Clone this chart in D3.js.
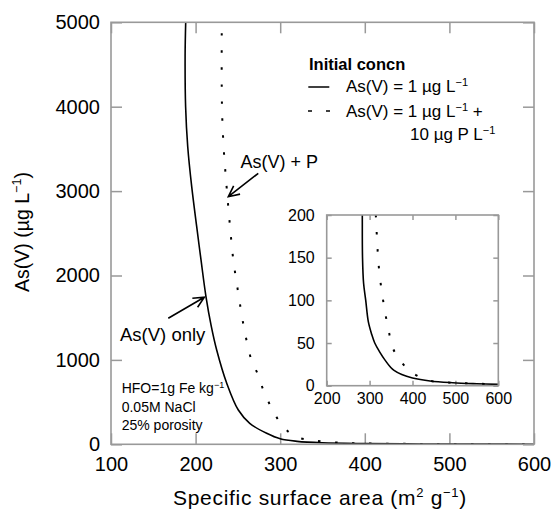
<!DOCTYPE html>
<html>
<head>
<meta charset="utf-8">
<script src="https://cdn.jsdelivr.net/npm/d3@7"></script>
<style>
  body { margin: 0; background: #fff; }
  text { font-family: "Liberation Sans", Arial, Helvetica, sans-serif; fill: #000; }
</style>
</head>
<body>
<script>
// Values.
// Main panel: specific surface area (m2/g) vs dissolved As(V) (ug/L).
const asOnlyArea = [188.3, 187.6, 188.2, 190.7, 195.4, 201.3, 206.4, 212.3, 218.5, 225, 236.8, 250.5, 264, 284, 300, 320, 350, 400, 450, 500, 600];
const asOnlyConc = [5000, 4600, 4000, 3526, 3052, 2578, 2184, 1748, 1400, 1114, 723, 406, 249, 130, 65, 35, 18, 9, 5, 3, 1];

const asPArea = [230.9, 230.9, 231.6, 233.6, 236, 240.7, 244.6, 250.5, 257, 266, 274, 280, 288, 297.8, 309.6, 321, 340, 368, 400, 450, 500, 600];
const asPConc = [4870, 4237, 3842, 3447, 3131, 2578, 2184, 1789, 1393, 999, 821, 643, 466, 288, 150, 80, 45, 20, 10, 5, 3, 1];

// Inset (low concentration close-up).
const insetOnlyArea = [283, 283, 283.5, 286, 291, 297, 305, 312, 323, 336, 350, 357, 375, 400, 441, 494, 550, 600];
const insetOnlyConc = [230, 200, 150, 120, 100, 75, 60, 50, 40, 30, 21, 18, 13, 9, 5.5, 3.5, 2.3, 1.5];

const insetPArea = [314.5, 318, 320.5, 324.5, 330, 336, 343.6, 351.5, 360, 371, 385, 399.6, 433, 472, 500, 600];
const insetPConc = [200, 165, 145, 125, 105, 86, 67, 48, 38, 30, 21, 15, 6.7, 4, 3.3, 1.5];

const xTicks = [100, 200, 300, 400, 500, 600];
const yTicks = [0, 1000, 2000, 3000, 4000, 5000];
const insetXTicks = [200, 300, 400, 500, 600];
const insetYTicks = [0, 50, 100, 150, 200];

const width = 554, height = 510;
const frameColor = "#999";

const svg = d3.select("body").append("svg")
  .attr("width", width)
  .attr("height", height);

const x = d3.scaleLinear().domain([100, 600]).range([111, 534]);
const y = d3.scaleLinear().domain([0, 5000]).range([444.3, 22.3]);

const ix = d3.scaleLinear().domain([200, 600]).range([326.7, 498.3]);
const iy = d3.scaleLinear().domain([0, 200]).range([385.7, 215]);

function zip(a, b) { return a.map((v, i) => [v, b[i]]); }

// Draws a framed panel with inward ticks on all four sides.
function panel(xs, ys, xt, yt, tickLen, fontSize, padX, padY, cls) {
  const g = svg.append("g").attr("class", cls);
  const [x0, x1] = xs.range(), [y0, y1] = ys.range();
  const fmt = d3.format("d");

  g.append("rect")
    .attr("x", x0).attr("y", y1)
    .attr("width", x1 - x0).attr("height", y0 - y1)
    .attr("fill", "#fff");

  const axes = [
    [d3.axisBottom(xs).tickValues(xt).tickSize(-tickLen).tickPadding(padX).tickFormat(fmt), `translate(0,${y0})`],
    [d3.axisTop(xs).tickValues(xt).tickSize(-tickLen).tickFormat(""), `translate(0,${y1})`],
    [d3.axisLeft(ys).tickValues(yt).tickSize(-tickLen).tickPadding(padY).tickFormat(fmt), `translate(${x0},0)`],
    [d3.axisRight(ys).tickValues(yt).tickSize(-tickLen).tickFormat(""), `translate(${x1},0)`]
  ];
  axes.forEach(([ax, tr]) => {
    const a = g.append("g").attr("transform", tr).call(ax);
    a.select(".domain").remove();
    a.selectAll("line").attr("stroke", frameColor).attr("stroke-width", 1.5);
    a.selectAll("text")
      .style("font-family", '"Liberation Sans", Arial, sans-serif')
      .style("font-size", fontSize + "px")
      .attr("fill", "#000");
  });
  return g;
}

function drawCurves(g, xs, ys, id, solidData, dotData) {
  const [x0, x1] = xs.range(), [y0, y1] = ys.range();
  svg.append("clipPath").attr("id", id)
    .append("rect")
    .attr("x", x0).attr("y", y1)
    .attr("width", x1 - x0).attr("height", y0 - y1);

  const line = d3.line()
    .x(d => xs(d[0]))
    .y(d => ys(d[1]))
    .curve(d3.curveCatmullRom.alpha(0.5));

  const c = g.append("g").attr("clip-path", `url(#${id})`);
  c.append("path")
    .attr("d", line(solidData))
    .attr("fill", "none")
    .attr("stroke", "#000")
    .attr("stroke-width", 1.6);
  c.append("path")
    .attr("d", line(dotData))
    .attr("fill", "none")
    .attr("stroke", "#000")
    .attr("stroke-width", 2)
    .attr("stroke-dasharray", "2.5,14.5");
}

function drawFrame(g, xs, ys) {
  const [x0, x1] = xs.range(), [y0, y1] = ys.range();
  g.append("rect")
    .attr("x", x0).attr("y", y1)
    .attr("width", x1 - x0).attr("height", y0 - y1)
    .attr("fill", "none")
    .attr("stroke", frameColor)
    .attr("stroke-width", 1.6);
}

// Main panel
const main = panel(x, y, xTicks, yTicks, 11, 20, 12.5, 11, "main");
drawCurves(main, x, y, "clipMain", zip(asOnlyArea, asOnlyConc), zip(asPArea, asPConc));
drawFrame(main, x, y);

// Inset panel
const inset = panel(ix, iy, insetXTicks, insetYTicks, 5, 16, 6.5, 12, "inset");
drawCurves(inset, ix, iy, "clipInset", zip(insetOnlyArea, insetOnlyConc), zip(insetPArea, insetPConc));
drawFrame(inset, ix, iy);

// Arrows with open heads
function arrow(from, to) {
  const [fx, fy] = [x(from[0]), y(from[1])];
  const [tx, ty] = [x(to[0]), y(to[1])];
  const ang = Math.atan2(ty - fy, tx - fx);
  const len = 12, spread = 0.45;
  const b1 = [tx - len * Math.cos(ang - spread), ty - len * Math.sin(ang - spread)];
  const b2 = [tx - len * Math.cos(ang + spread), ty - len * Math.sin(ang + spread)];
  svg.append("path")
    .attr("d", `M${fx},${fy}L${tx},${ty}M${b1[0]},${b1[1]}L${tx},${ty}L${b2[0]},${b2[1]}`)
    .attr("fill", "none")
    .attr("stroke", "#000")
    .attr("stroke-width", 1.6);
}
arrow([274.1, 3211], [238.7, 2934]);
arrow([167.7, 1493], [210.3, 1742]);

// Annotations
svg.append("text").attr("x", 240.5).attr("y", 168).style("font-size", "18px").text("As(V) + P");
svg.append("text").attr("x", 120).attr("y", 341).style("font-size", "18.5px").text("As(V) only");

const cond = svg.append("text").style("font-size", "14px");
cond.append("tspan").attr("x", 121.7).attr("y", 393).text("HFO=1g Fe kg");
cond.append("tspan").attr("dy", -5).style("font-size", "9px").text("\u22121");
cond.append("tspan").attr("x", 121.7).attr("y", 411.5).text("0.05M NaCl");
cond.append("tspan").attr("x", 121.7).attr("y", 430).text("25% porosity");

// Legend
svg.append("text").attr("x", 309).attr("y", 70)
  .style("font-size", "16.5px").style("font-weight", "bold").text("Initial concn");
svg.append("line").attr("x1", 308.3).attr("x2", 329.3).attr("y1", 87).attr("y2", 87)
  .attr("stroke", "#000").attr("stroke-width", 1.5);
[308, 326].forEach(d => {
  svg.append("line").attr("x1", d).attr("x2", d + 4).attr("y1", 111).attr("y2", 111)
    .attr("stroke", "#000").attr("stroke-width", 1.5);
});

function concText(xp, yp, parts) {
  const t = svg.append("text").attr("x", xp).attr("y", yp).style("font-size", "17px");
  parts.forEach(p => {
    const s = t.append("tspan").text(p.t);
    if (p.sup) s.attr("dy", -6).style("font-size", "11px");
    if (p.down) s.attr("dy", 6);
  });
}
concText(346, 92, [{t: "As(V) = 1 \u00b5g L"}, {t: "\u22121", sup: true}]);
concText(346, 116.5, [{t: "As(V) = 1 \u00b5g L"}, {t: "\u22121", sup: true}, {t: " +", down: true}]);
concText(410, 140, [{t: "10 \u00b5g P L"}, {t: "\u22121", sup: true}]);

// Axis titles
const xt = svg.append("text").attr("x", 320).attr("y", 505)
  .attr("text-anchor", "middle").style("font-size", "21px").style("letter-spacing", "0.7px");
xt.append("tspan").text("Specific surface area (m");
xt.append("tspan").attr("dy", -8).style("font-size", "13px").text("2");
xt.append("tspan").attr("dy", 8).text(" g");
xt.append("tspan").attr("dy", -8).style("font-size", "13px").text("\u22121");
xt.append("tspan").attr("dy", 8).text(")");

const yt = svg.append("text")
  .attr("transform", "translate(28.5,232) rotate(-90)")
  .attr("text-anchor", "middle").style("font-size", "19.5px");
yt.append("tspan").text("As(V) (\u00b5g L");
yt.append("tspan").attr("dy", -8).style("font-size", "12.5px").text("\u22121");
yt.append("tspan").attr("dy", 8).text(")");
</script>
</body>
</html>
